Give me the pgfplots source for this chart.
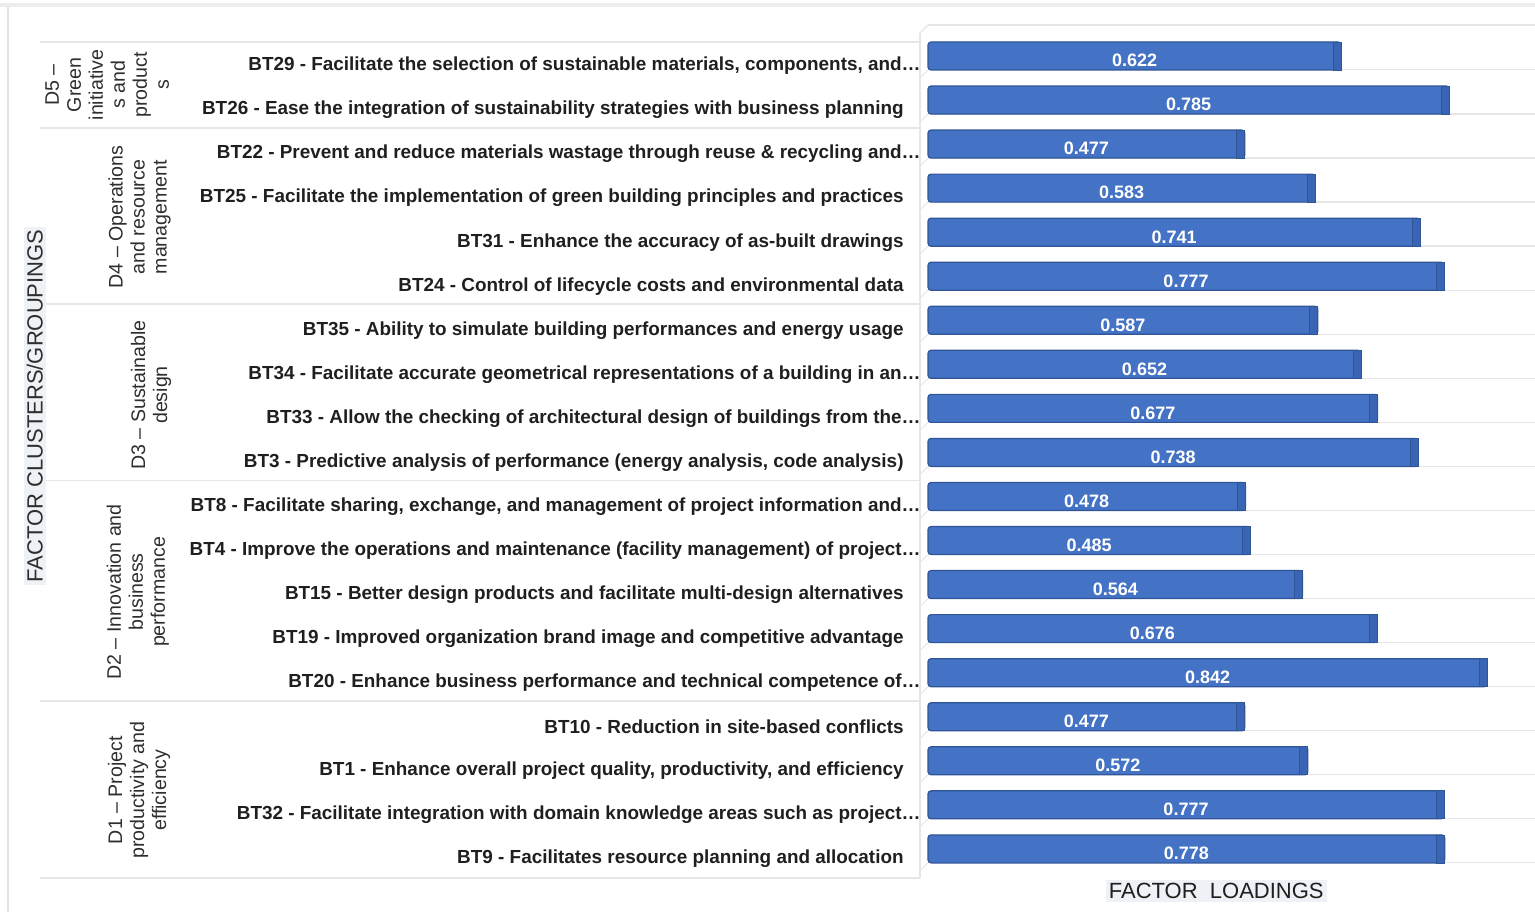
\documentclass[border=0pt]{standalone}
\usepackage{pgfplots}
\pgfplotsset{compat=1.18}
\usepackage{pgfplotstable}
\usepackage{fontspec}
\setmainfont{Liberation Sans}

\definecolor{barblue}{HTML}{4472C4}
\definecolor{baredge}{HTML}{2F5597}
\definecolor{barcap}{HTML}{3A65B4}
\definecolor{txt}{HTML}{1F1F1F}
\definecolor{grptxt}{HTML}{2E2E2E}
\definecolor{gridc}{HTML}{E6E6E6}
\definecolor{titlebg}{HTML}{EEF1F5}

% darker end cap of each bar, drawn at the bar's value
\pgfdeclareplotmark{barcap}{%
  \pgfpathrectangle{\pgfpoint{-4pt}{-7pt}}{\pgfpoint{4pt}{14pt}}%
  \pgfusepathqfillstroke}

% shortened labels end with an ellipsis that hangs past the text edge
\newcommand{\cut}{…\hspace*{-8.5pt}}

% factor loadings, listed top to bottom
\pgfplotstableread[col sep=comma]{
i,v
1,0.622
2,0.785
3,0.477
4,0.583
5,0.741
6,0.777
7,0.587
8,0.652
9,0.677
10,0.738
11,0.478
12,0.485
13,0.564
14,0.676
15,0.842
16,0.477
17,0.572
18,0.777
19,0.778
}\loadings

\begin{document}
\begin{tikzpicture}
\useasboundingbox (0,0) rectangle (767.5pt,456pt);
% page frame
\draw[gray!14, line width=1.6pt] (0,453.5pt) -- (767.5pt,453.5pt);
\draw[gray!22, line width=0.6pt] (4pt,0) -- (4pt,452.7pt);

\begin{axis}[
  at={(464pt,15.35pt)}, anchor=south west,
  scale only axis, width=303.5pt, height=431.7pt,
  xmin=0, xmax=0.914, ymin=0, ymax=19.6, y dir=reverse,
  axis line style={draw=none}, tick style={draw=none},
  xtick=\empty,
  ytick={1,...,19},
  yticklabels={
    {BT29 - Facilitate the selection of sustainable materials, components, and\cut},
    {BT26 - Ease the integration of sustainability strategies with business planning},
    {BT22 - Prevent and reduce materials wastage through reuse \& recycling and\cut},
    {BT25 - Facilitate the implementation of green building principles and practices},
    {BT31 - Enhance the accuracy of as-built drawings},
    {BT24 - Control of lifecycle costs and environmental data},
    {BT35 - Ability to simulate building performances and energy usage},
    {BT34 - Facilitate accurate geometrical representations of a building in an\cut},
    {BT33 - Allow the checking of architectural design of buildings from the\cut},
    {BT3 - Predictive analysis of performance (energy analysis, code analysis)},
    {BT8 - Facilitate sharing, exchange, and management of project information and\cut},
    {BT4 - Improve the operations and maintenance (facility management) of project\cut},
    {BT15 - Better design products and facilitate multi-design alternatives},
    {BT19 - Improved organization brand image and competitive advantage},
    {BT20 - Enhance business performance and technical competence of\cut},
    {BT10 - Reduction in site-based conflicts},
    {BT1 - Enhance overall project quality, productivity, and efficiency},
    {BT32 - Facilitate integration with domain knowledge areas such as project\cut},
    {BT9 - Facilitates resource planning and allocation}},
  yticklabel style={font=\fontsize{9.45}{11}\selectfont\bfseries, text=txt,
    anchor=east, inner sep=0pt, xshift=-12pt, yshift=-2pt},
  extra y ticks={0.16,1.18,2.18,3.18,4.18,5.18,6.18,7.18,8.18,9.18,10.18,11.18,12.18,13.18,14.18,15.18,16.18,17.18,18.18,19.18},
  extra y tick labels={},
  extra y tick style={grid=major, major grid style={gridc, line width=0.6pt}},
  clip=false,
]
% back wall and floor edges
\draw[gridc, line width=0.6pt] (axis cs:-0.012,0.34) -- (axis cs:-0.012,19.52);
\draw[gridc, line width=0.6pt] (axis cs:-0.012,0.34) -- (axis cs:0,0.16);
\pgfplotsinvokeforeach{1.18,2.18,3.18,4.18,5.18,6.18,7.18,8.18,9.18,10.18,11.18,12.18,13.18,14.18,15.18,16.18,17.18,18.18,19.18}{
  \draw[gridc, line width=0.5pt] (axis cs:-0.012,#1+0.18) -- (axis cs:0,#1);
}
% group separators
\pgfplotsinvokeforeach{0.55,2.5,6.5,10.5,15.5,19.52}{
  \draw[gridc, line width=0.9pt] (axis cs:-1.337,#1) -- (axis cs:-0.012,#1);
}

% bars
\addplot[xbar, bar width=14pt, fill=barblue, draw=baredge, line width=0.6pt,
  rounded corners=1.5pt]
  table[x=v, y expr=\thisrow{i}-0.136]{\loadings};
\addplot[only marks, mark=barcap,
  mark options={fill=barcap, draw=baredge, line width=0.4pt}]
  table[x=v, y expr=\thisrow{i}-0.136]{\loadings};
% value labels inside the bars
\addplot[draw=none, mark=none, point meta=explicit,
  nodes near coords={\pgfmathprintnumber[fixed, fixed zerofill, precision=3,
    assume math mode=true]{\pgfplotspointmeta}},
  nodes near coords style={font=\fontsize{9}{10}\selectfont\bfseries,
    text=white, anchor=center, inner sep=0pt}]
  table[x expr=\thisrow{v}/2, y expr=\thisrow{i}-0.03, meta=v]{\loadings};

% cluster names
\begin{scope}[every node/.style={rotate=90, align=center, text=grptxt,
    font=\fontsize{9.8}{11}\selectfont}]
\node at (axis cs:-1.236,1.52) {D5 –\\Green\\initiative\\s and\\product\\s};
\node at (axis cs:-1.187,4.52) {D4 – Operations\\and resource\\management};
\node at (axis cs:-1.170,8.56) {D3 – Sustainable\\design};
\node at (axis cs:-1.190,13.03) {D2 – Innovation and\\business\\performance};
\node at (axis cs:-1.188,17.53) {D1 – Project\\productivity and\\efficiency};
\end{scope}

% axis titles
\node[rotate=90, fill=titlebg, inner sep=1.5pt, text=grptxt,
  font=\fontsize{11}{13}\selectfont] at (axis cs:-1.345,8.81)
  {FACTOR CLUSTERS/GROUPINGS};
\node[fill=titlebg, inner sep=1.5pt, text=txt,
  font=\fontsize{11}{13}\selectfont] at (axis cs:0.434,19.82)
  {FACTOR\ \ LOADINGS};
\end{axis}
\end{tikzpicture}
\end{document}
